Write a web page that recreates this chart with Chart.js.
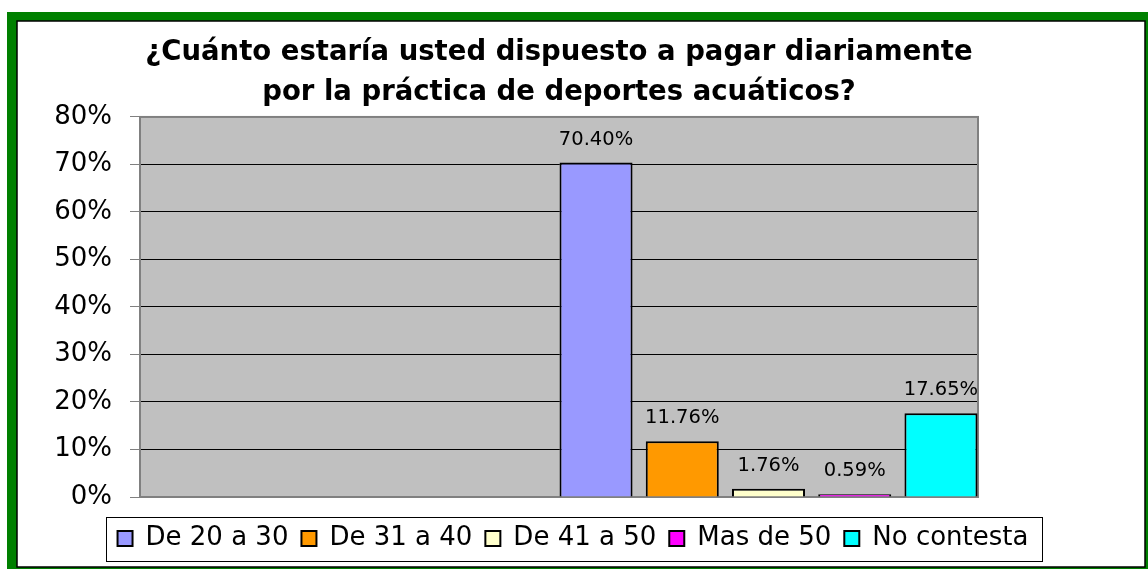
<!DOCTYPE html>
<html>
<head>
    <title>Deportes acuáticos</title>
    <script src="https://cdn.jsdelivr.net/npm/chart.js"></script>
    <style>
        html, body { margin: 0; padding: 0; background: #fff; }
        #wrap { width: 1148px; height: 569px; }
    </style>
</head>
<body>
    <div id="wrap"><canvas id="grafico" width="1148" height="569"></canvas></div>

    <script>
        // Datos
        const titleLines = ['¿Cuánto estaría usted dispuesto a pagar diariamente', 'por la práctica de deportes acuáticos?'];
        const categories = ['', ''];   // el primer hueco queda vacío como en el original
        const seriesNames = ['De 20 a 30', 'De 31 a 40', 'De 41 a 50', 'Mas de 50', 'No contesta'];
        const values = [70.40, 11.76, 1.76, 0.59, 17.65];
        const yMin = 0, yMax = 80, yStep = 10;

        const seriesColors = ['#9999FF', '#FF9900', '#FFFFCC', '#FF00FF', '#00FFFF'];
        const font = '"DejaVu Sans", sans-serif';

        const datasets = seriesNames.map((name, i) => ({
            label: name,
            data: [null, values[i]],
            backgroundColor: seriesColors[i],
            borderColor: '#000',
            borderWidth: 2,
            categoryPercentage: 1.029,
            barPercentage: 0.847
        }));

        // marco verde, fondo gris del área de trazado, borde de la leyenda y etiquetas
        const decor = {
            id: 'decor',
            beforeDraw(chart) {
                const ctx = chart.ctx;
                const a = chart.chartArea;
                ctx.save();
                ctx.fillStyle = '#fff';
                ctx.fillRect(0, 0, chart.width, chart.height);
                ctx.fillStyle = '#008000';
                ctx.fillRect(7, 12, chart.width - 7, chart.height - 12);
                ctx.fillStyle = '#fff';
                ctx.fillRect(17, 21, 1128, 546);
                ctx.strokeStyle = '#000';
                ctx.lineWidth = 1.5;
                ctx.strokeRect(17, 21, 1128, 546);
                ctx.fillStyle = '#C0C0C0';
                ctx.fillRect(a.left, a.top, a.right - a.left, a.bottom - a.top);
                ctx.restore();
            },
            beforeDatasetsDraw(chart) {
                const ctx = chart.ctx;
                const a = chart.chartArea;
                ctx.save();
                ctx.strokeStyle = '#808080';
                ctx.lineWidth = 2;
                ctx.strokeRect(a.left, a.top, a.right - a.left, a.bottom - a.top);
                ctx.restore();
            },
            afterDatasetsDraw(chart) {
                const ctx = chart.ctx;
                ctx.save();
                ctx.font = '19.5px ' + font;
                ctx.fillStyle = '#000';
                ctx.textAlign = 'center';
                ctx.textBaseline = 'alphabetic';
                chart.data.datasets.forEach((ds, i) => {
                    chart.getDatasetMeta(i).data.forEach((bar, j) => {
                        const v = ds.data[j];
                        if (v === null) return;
                        ctx.fillText(v.toFixed(2) + '%', bar.x, bar.y - 18);
                    });
                });
                ctx.restore();
            },
            afterDraw(chart) {
                const lg = chart.legend;
                const boxes = lg.legendHitBoxes;
                if (!boxes || !boxes.length) return;
                const left = Math.min(...boxes.map(b => b.left));
                const right = Math.max(...boxes.map(b => b.left + b.width));
                const top = boxes[0].top;
                const ctx = chart.ctx;
                ctx.save();
                ctx.strokeStyle = '#000';
                ctx.lineWidth = 1;
                ctx.strokeRect(Math.round(left - 12) + 0.5, Math.round(top - 8.5) + 0.5,
                    Math.round(right - left + 25), 44);
                ctx.restore();
            }
        };

        new Chart(document.getElementById('grafico'), {
            type: 'bar',
            data: { labels: categories, datasets: datasets },
            plugins: [decor],
            options: {
                responsive: false,
                animation: false,
                layout: { padding: { left: 18, right: 20, top: 0, bottom: 7.5 } },
                plugins: {
                    tooltip: { enabled: false },
                    title: {
                        display: true,
                        fullSize: false,
                        text: titleLines,
                        color: '#000',
                        font: { family: font, size: 27.5, weight: 'bold', lineHeight: 1.45 },
                        padding: { top: 32.6, bottom: 4.6 }
                    },
                    legend: {
                        position: 'bottom',
                        labels: {
                            color: '#000',
                            font: { family: font, size: 26 },
                            boxWidth: 15,
                            boxHeight: 15,
                            padding: 13
                        }
                    }
                },
                scales: {
                    x: {
                        ticks: { display: false },
                        grid: { display: false },
                        border: { display: false },
                        afterFit: s => { s.height = 15.5; }
                    },
                    y: {
                        min: yMin,
                        max: yMax,
                        ticks: {
                            stepSize: yStep,
                            color: '#000',
                            padding: 18,
                            font: { family: font, size: 26 },
                            callback: v => v + '%'
                        },
                        grid: {
                            color: c => (c.tick && (c.tick.value === yMin || c.tick.value === yMax)) ? '#808080' : '#000',
                            lineWidth: 1,
                            tickLength: 10,
                            tickColor: '#808080'
                        },
                        border: { color: '#808080', width: 2 },
                        afterFit: s => { s.width = 122; }
                    },
                    y2: {
                        position: 'right',
                        ticks: { display: false },
                        grid: { display: false },
                        border: { display: false },
                        afterFit: s => { s.width = 150; }
                    }
                }
            }
        });
    </script>
</body>
</html>
